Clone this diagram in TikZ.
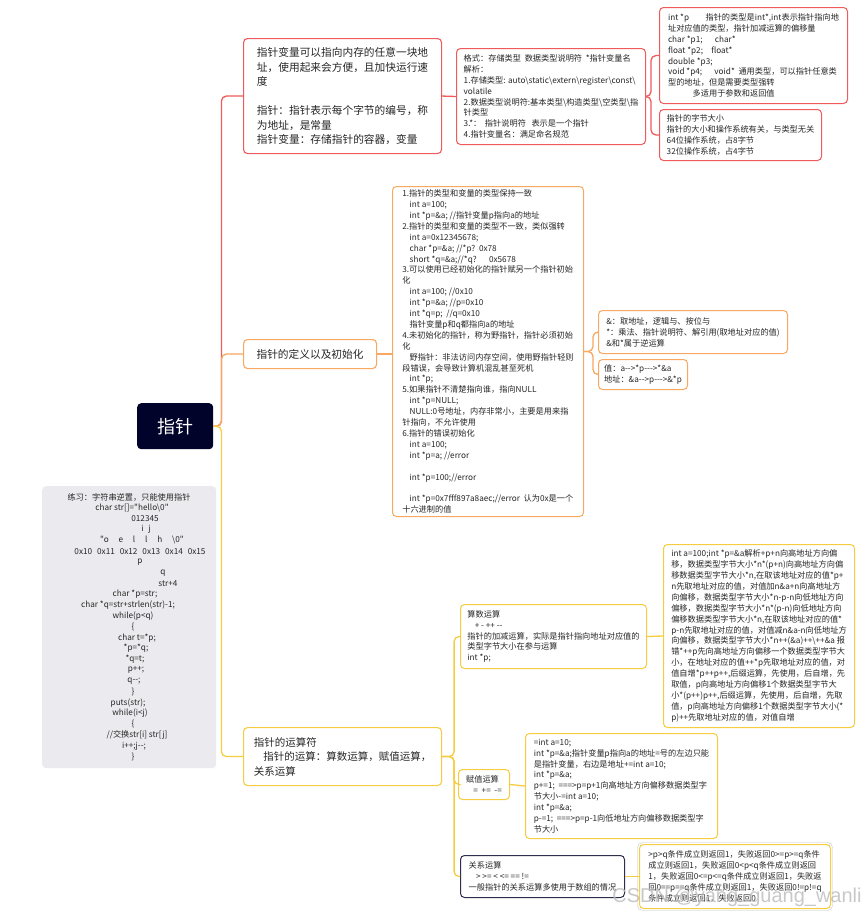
\documentclass[tikz,border=0pt]{standalone}
\usepackage{fontspec}
\setmainfont{Noto Sans CJK SC}[Ligatures=TeXOff]
\newfontfamily\wmfont{Liberation Sans}
\usepackage{tikz}
\usetikzlibrary{positioning,calc}
\definecolor{rootblue}{HTML}{02032B}
\definecolor{redline}{HTML}{F15A5A}
\definecolor{orgline}{HTML}{F8A860}
\definecolor{ylwline}{HTML}{F6CD40}
\definecolor{notegray}{HTML}{EBEAEE}
\definecolor{navyline}{HTML}{2E2F4F}
\newcommand\ind{\hspace*{0.9em}}

\begin{document}
\begin{tikzpicture}[x=1pt,y=-1pt,
  topic/.style={draw,rounded corners=4pt,line width=1.1pt,fill=white,anchor=north west,align=left,inner xsep=10pt,inner ysep=3pt,font=\fontsize{10.7}{14.5}\selectfont,text=black!85},
  leaf/.style={draw,rounded corners=4pt,line width=1pt,fill=white,anchor=north west,align=left,inner xsep=4pt,inner ysep=3pt,font=\fontsize{8.2}{10.9}\selectfont,text=black!85},
  branch/.style={line width=1.3pt,rounded corners=5pt},
  codeline/.style={font=\fontsize{8.2}{10}\selectfont,inner sep=0pt,text=black!85}]
  \useasboundingbox (0,0) rectangle (867,916);
  \fill[white] (0,0) rectangle (867,916);

  % root and first level
  \node[fill=rootblue,rounded corners=4pt,text=white,font=\fontsize{18}{20}\selectfont,minimum width=76pt,minimum height=46pt,anchor=north west] (root) at (137,403) {指针};
  \node[topic,draw=redline,minimum width=198pt,minimum height=115pt] (var) at (243,38) {指针变量可以指向内存的任意一块地\\址，使用起来会方便，且加快运行速\\度\\[14.5pt]指针：指针表示每个字节的编号，称\\为地址，是常量\\指针变量：存储指针的容器，变量};
  \node[topic,draw=orgline,minimum width=133pt,minimum height=29pt,align=center] (init) at (243,339) {指针的定义以及初始化};
  \node[topic,draw=ylwline,minimum width=198pt,minimum height=58pt,font=\fontsize{10.5}{14.5}\selectfont] (ops) at (243,727) {指针的运算符\\\ind 指针的运算：算数运算，赋值运算，\\关系运算};

  % pointer variable
  \node[leaf,draw=redline,minimum width=189pt,minimum height=96pt] (fmt) at (456,48) {格式：存储类型\ \ 数据类型说明符\ \ *指针变量名\\解析：\\1.存储类型: auto\textbackslash static\textbackslash extern\textbackslash register\textbackslash const\textbackslash\\volatile\\2.数据类型说明符:基本类型\textbackslash 构造类型\textbackslash 空类型\textbackslash 指\\针类型\\3.*：\ \ 指针说明符\ \ \ 表示是一个指针\\4.指针变量名：满足命名规范};
  \node[leaf,draw=redline,minimum width=188pt,minimum height=96pt] (types) at (659,7) {int *p\hspace{2em}指针的类型是int*,int表示指针指向地\\址对应值的类型，指针加减运算的偏移量\\char *p1;\hspace{1.5em}char*\\float *p2;\hspace{1em}float*\\double *p3;\\void *p4;\hspace{1.5em}void*\ \ 通用类型，可以指针任意类\\型的地址，但是需要类型强转\\\hspace*{3em}多适用于参数和返回值};
  \node[leaf,draw=redline,minimum width=162pt,minimum height=51pt] (size) at (659,109) {指针的字节大小\\指针的大小和操作系统有关，与类型无关\\64位操作系统，占8字节\\32位操作系统，占4字节};

  % definition and init
  \node[leaf,draw=orgline,minimum width=191pt,minimum height=330pt] (rules) at (392,186) {1.指针的类型和变量的类型保持一致\\\ind int a=100;\\\ind int *p=\&a; //指针变量p指向a的地址\\2.指针的类型和变量的类型不一致，类似强转\\\ind int a=0x12345678;\\\ind char *p=\&a; //*p?\ \ 0x78\\\ind short *q=\&a;//*q?\hspace{1.5em}0x5678\\3.可以使用已经初始化的指针赋另一个指针初始\\化\\\ind int a=100; //0x10\\\ind int *p=\&a; //p=0x10\\\ind int *q=p;\ \ //q=0x10\\\ind 指针变量p和q都指向a的地址\\4.未初始化的指针，称为野指针，指针必须初始\\化\\\ind 野指针：非法访问内存空间，使用野指针轻则\\段错误，会导致计算机混乱甚至死机\\\ind int *p;\\5.如果指针不清楚指向谁，指向NULL\\\ind int *p=NULL;\\\ind NULL:0号地址，内存非常小，主要是用来指\\针指向，不允许使用\\6.指针的错误初始化\\\ind int a=100;\\\ind int *p=a; //error\\[10.9pt]\ind int *p=100;//error\\[10.9pt]\ind int *p=0x7fff897a8aec;//error\ \ 认为0x是一个\\十六进制的值};
  \node[leaf,draw=orgline,minimum width=189pt,minimum height=43pt] (amp) at (598,310) {\&：取地址，逻辑与、按位与\\*：乘法、指针说明符、解引用(取地址对应的值)\\\&和*属于逆运算};
  \node[leaf,draw=orgline,minimum width=89pt,minimum height=30pt] (deref) at (598,359) {值：a-->*p--->*\&a\\地址：\&a-->p--->\&*p};

  % operators
  \node[leaf,draw=ylwline,minimum width=186pt,minimum height=64pt] (arith) at (460,604) {算数运算\\\ind + - ++ --\\指针的加减运算，实际是指针指向地址对应值的\\类型字节大小在参与运算\\int *p;};
  \node[leaf,draw=ylwline,minimum width=191pt,minimum height=183pt] (arithx) at (663,544) {int a=100;int *p=\&a解析+p+n向高地址方向偏\\移，数据类型字节大小*n*(p+n)向高地址方向偏\\移数据类型字节大小*n,在取该地址对应的值*p+\\n先取地址对应的值，对值加n\&a+n向高地址方\\向偏移，数据类型字节大小*n-p-n向低地址方向\\偏移，数据类型字节大小*n*(p-n)向低地址方向\\偏移数据类型字节大小*n,在取该地址对应的值*\\p-n先取地址对应的值，对值减n\&a-n向低地址方\\向偏移，数据类型字节大小*n++(\&a)++\textbackslash++\&a 报\\错*++p先向高地址方向偏移一个数据类型字节大\\小，在地址对应的值++*p先取地址对应的值，对\\值自增*p++p++,后缀运算，先使用，后自增，先\\取值，p向高地址方向偏移1个数据类型字节大\\小*(p++)p++,后缀运算，先使用，后自增，先取\\值，p向高地址方向偏移1个数据类型字节大小(*\\p)++先取地址对应的值，对值自增};
  \node[leaf,draw=ylwline,minimum width=51pt,minimum height=30pt] (assign) at (458,769) {赋值运算\\\ind =\ \ +=\ \ -=};
  \node[leaf,draw=ylwline,minimum width=192pt,minimum height=105pt] (assignx) at (525,733) {=int a=10;\\int *p=\&a;指针变量p指向a的地址=号的左边只能\\是指针变量，右边是地址+=int a=10;\\int *p=\&a;\\p+=1;\ \ ===>p=p+1向高地址方向偏移数据类型字\\节大小-=int a=10;\\int *p=\&a;\\p-=1;\ \ ===>p=p-1向低地址方向偏移数据类型字\\节大小};
  \node[leaf,draw=navyline,minimum width=164pt,minimum height=42pt] (rel) at (460,855) {关系运算\\\ind > >= < <= == !=\\一般指针的关系运算多使用于数组的情况};
  \node[leaf,draw=ylwline,minimum width=191pt,minimum height=64pt] (relx) at (639,844) {>p>q条件成立则返回1，失败返回0>=p>=q条件\\成立则返回1，失败返回0<p<q条件成立则返回\\1，失败返回0<=p<=q条件成立则返回1，失败返\\回0==p==q条件成立则返回1，失败返回0!=p!=q\\条件成立则返回1，失败返回0};
  \draw[gray!45,rounded corners=5pt] ($(relx.north west)+(-1.5,-1.5)$) rectangle ($(relx.south east)+(1.5,1.5)$);

  % practice note
  \node[fill=notegray,rounded corners=4pt,minimum width=174pt,minimum height=282pt,anchor=north west] (practice) at (42,486) {};
  \foreach \cx/\txt [count=\i from 0] in {129/{练习：字符串逆置，只能使用指针},132/{char str[]="hello\textbackslash0"},145/{012345},146/{i\hspace{0.6em}j},142/{"o\hspace{1.2em}e\hspace{1.2em}l\hspace{1.2em}l\hspace{1.2em}h\hspace{1.2em}\textbackslash0"},140/{0x10\hspace{0.6em}0x11\hspace{0.6em}0x12\hspace{0.6em}0x13\hspace{0.6em}0x14\hspace{0.6em}0x15},140/{p},163/{q},168/{str+4},135/{char *p=str;},128/{char *q=str+strlen(str)-1;},133/{while(p<q)},133/{\{},137/{char t=*p;},136/{*p=*q;},135/{*q=t;},136/{p++;},134/{q--;},133/{\}},128/{puts(str);},130/{while(i<j)},133/{\{},137/{//交换str[i] str[j]},134/{i++;j--;},133/{\}}}
    \node[codeline] (line\i) at (\cx,{497+10.83*\i}) {\txt};

  % connectors
  \draw[branch,redline] (root.east) -- ++(8,0) |- (var.west);
  \draw[branch,orgline] (root.east) -- ++(8,0) |- (init.west);
  \draw[branch,ylwline] (root.east) -- ++(8,0) |- (ops.west);
  \draw[branch,redline] (var.east) -- (fmt.west);
  \draw[branch,redline] (fmt.east) -- ++(5,0) |- (types.west);
  \draw[branch,redline] (fmt.east) -- ++(5,0) |- (size.west);
  \draw[branch,orgline] (init.east) -- (init.east -| rules.west);
  \draw[branch,orgline] (rules.east) -- ++(9,0) |- (amp.west);
  \draw[branch,orgline] (rules.east) -- ++(9,0) |- (deref.west);
  \draw[branch,ylwline] (ops.east) -- ++(12,0) |- (arith.west);
  \draw[branch,ylwline] (ops.east) -- ++(12,0) |- (assign.west);
  \draw[branch,ylwline] (ops.east) -- ++(12,0) |- (rel.west);
  \draw[branch,ylwline] (arith.east) -- (arithx.west);
  \draw[branch,ylwline] (assign.east) -- (assignx.west);
  \draw[branch,ylwline] (rel.east) -- (relx.west);

  \node[font=\wmfont\fontsize{20}{20}\selectfont,text=gray!50,opacity=0.85] (mark) at (737,897) {CSDN @yang\_guang\_wanli};
\end{tikzpicture}
\end{document}
